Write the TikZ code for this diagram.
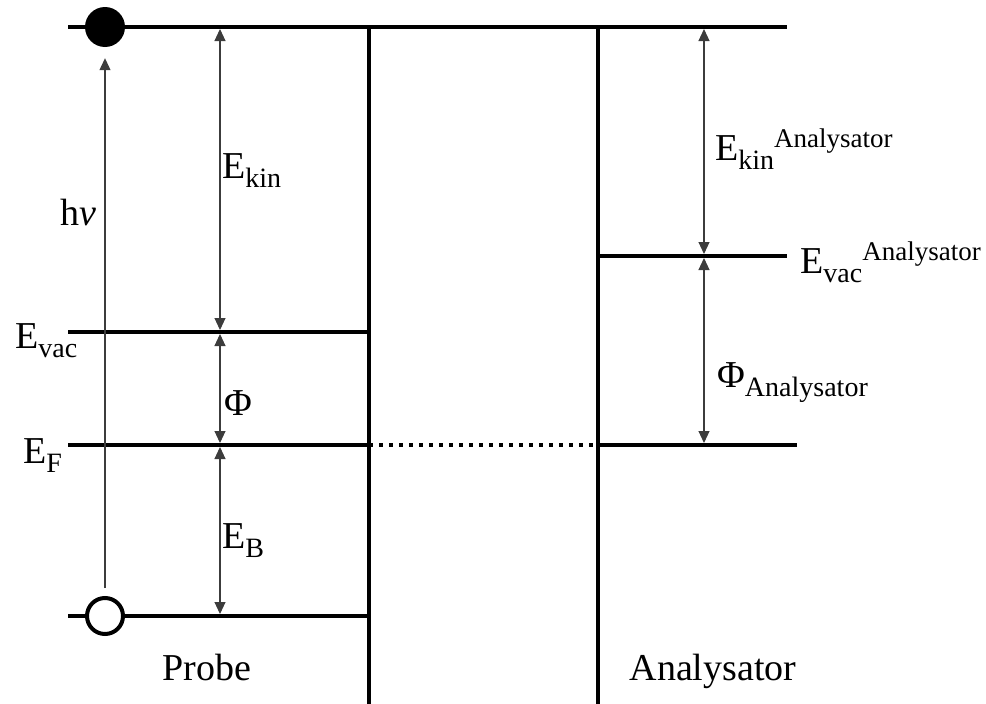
\documentclass[tikz,border=0pt]{standalone}
\usepackage{fontspec}
\setmainfont{Liberation Serif}
\usepackage{tikz}
\usetikzlibrary{arrows.meta}
\definecolor{ink}{HTML}{000000}
\definecolor{thin}{HTML}{3C3C3C}
\newcommand\lowpart[1]{\raisebox{-9pt}{\fontsize{28}{28}\selectfont #1}}
\newcommand\highpart[1]{\raisebox{13pt}{\fontsize{27}{27}\selectfont #1}}
\tikzset{level/.style={draw=ink,line width=4.5pt},wall/.style={draw=ink,line width=4.5pt},gap/.style={draw=thin,line width=1.1pt,shorten <=2pt,shorten >=2pt,{Triangle[width=11pt,length=12pt]}-{Triangle[width=11pt,length=12pt]}},lift/.style={draw=thin,line width=1.1pt,-{Triangle[width=11pt,length=12pt]}},bridge/.style={draw=ink,line width=4pt,dash pattern=on 4pt off 6pt},sym/.style={font=\fontsize{38}{38}\selectfont,inner sep=0pt,anchor=base west}}

\begin{document}
\begin{tikzpicture}[x=1pt,y=-1pt]
\useasboundingbox (0,0) rectangle (986,704);
% levels and walls
\coordinate (topL) at (68,27);\coordinate (topR) at (787,27);
\coordinate (probeTop) at (369,27);\coordinate (probeFoot) at (369,704);
\coordinate (anaTop) at (598,27);\coordinate (anaFoot) at (598,704);
\coordinate (vacL) at (68,332);\coordinate (vacR) at (369,332);
\coordinate (fermiL) at (68,445);\coordinate (fermiR) at (369,445);
\coordinate (fermiA) at (598,445);\coordinate (fermiAR) at (797,445);
\coordinate (coreL) at (68,616);\coordinate (coreR) at (369,616);
\coordinate (vacA) at (598,256);\coordinate (vacAR) at (787,256);
\draw[level] (topL)--(topR);
\draw[level] (vacL)--(vacR);
\draw[level] (fermiL)--(fermiR);
\draw[bridge] (fermiR)--(fermiA);
\draw[level] (fermiA)--(fermiAR);
\draw[level] (coreL)--(coreR);
\draw[level] (vacA)--(vacAR);
\draw[wall] (probeTop)--(probeFoot);
\draw[wall] (anaTop)--(anaFoot);
% energy gaps
\foreach \n/\y in {kinTop/27,kinVac/332,kinF/445,kinCore/616}{\coordinate (\n) at (220,\y);}
\foreach \n/\y in {aTop/27,aVac/256,aF/445}{\coordinate (\n) at (704,\y);}
\foreach \p/\q in {kinTop/kinVac,kinVac/kinF,kinF/kinCore,aTop/aVac,aVac/aF}{\draw[gap] (\p)--(\q);}
% electron and hole
\node[circle,fill=ink,minimum size=40pt,inner sep=0pt] (hot) at (105,27) {};
\node[circle,draw=ink,line width=4pt,fill=white,minimum size=36pt,inner sep=0pt] (hole) at (105,616) {};
\draw[lift,shorten <=8pt,shorten >=11pt] (hole)--(hot);
% labels
\node[sym] (hnu) at (60,225) {h\textit{ν}};
\node[sym] (kinlab) at (222,178) {E\lowpart{kin}};
\node[sym] (vaclab) at (15,348) {E\lowpart{vac}};
\node[sym] (philab) at (224,415) {Φ};
\node[sym] (fermilab) at (23,463) {E\lowpart{F}};
\node[sym] (bindlab) at (222,548) {E\lowpart{B}};
\node[sym,anchor=base] (probelab) at (207,680) {Probe};
\node[sym,anchor=base] (analab) at (713,680) {Analysator};
\node[sym] (kinAlab) at (715,160) {E\lowpart{kin}\highpart{Analysator}};
\node[sym] (vacAlab) at (800,273) {E\lowpart{vac}\highpart{Analysator}};
\node[sym] (phiAlab) at (717,387) {Φ\lowpart{Analysator}};
\end{tikzpicture}
\end{document}
